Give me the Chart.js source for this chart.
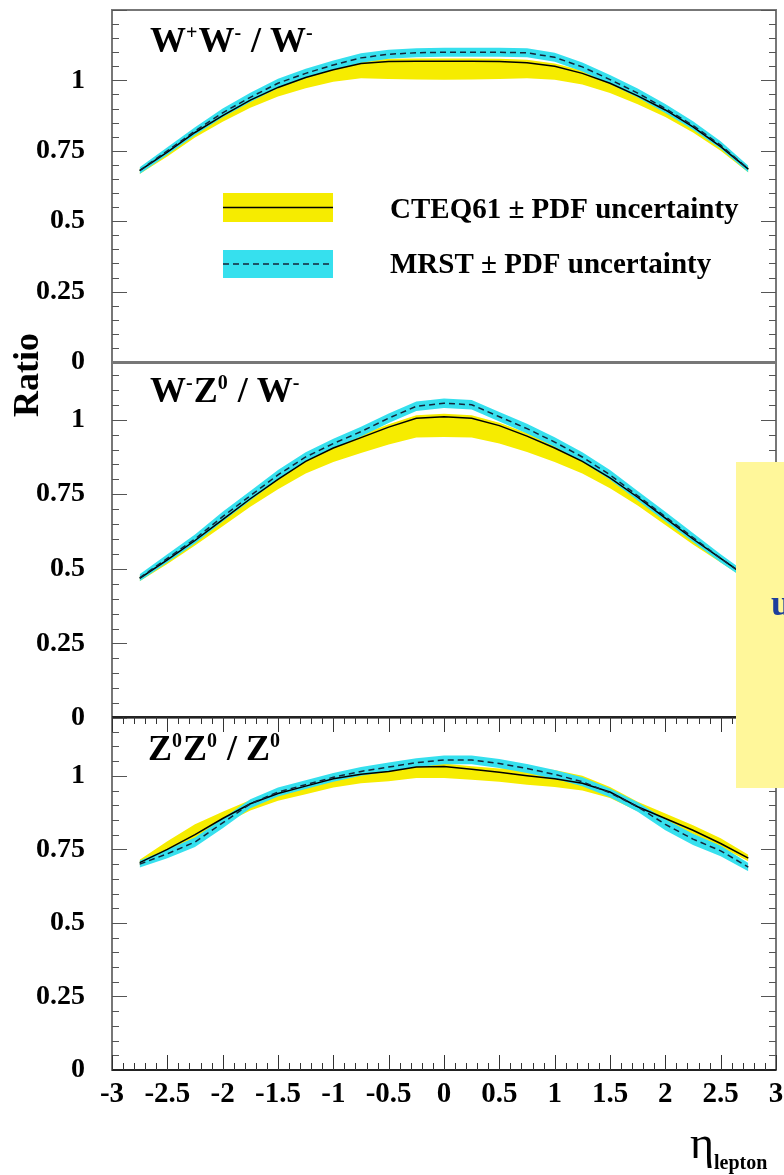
<!DOCTYPE html>
<html>
<head>
<meta charset="utf-8">
<script src="https://cdn.jsdelivr.net/npm/chart.js@4.4.1/dist/chart.umd.min.js"></script>
<style>
  html, body { margin: 0; padding: 0; background: #fff; }
  #wrap { position: relative; width: 784px; height: 1175px; overflow: hidden; background: #fff; }
  canvas { position: absolute; left: 0; top: 0; }
</style>
</head>
<body>
<div id="wrap">
  <canvas id="wwChart" width="784" height="1175"></canvas>
  <canvas id="wzChart" width="784" height="1175"></canvas>
  <canvas id="zzChart" width="784" height="1175"></canvas>
</div>
<script>
// lepton pseudorapidity bins
var eta = [-2.75, -2.5, -2.25, -2.0, -1.75, -1.5, -1.25, -1.0, -0.75, -0.5, -0.25, 0,
           0.25, 0.5, 0.75, 1.0, 1.25, 1.5, 1.75, 2.0, 2.25, 2.5, 2.75];
var xTicks = [-3, -2.5, -2, -1.5, -1, -0.5, 0, 0.5, 1, 1.5, 2, 2.5, 3];
var yTicks = [0, 0.25, 0.5, 0.75, 1];

// W+W- / W-
var wwCteq   = [0.680, 0.745, 0.815, 0.875, 0.930, 0.975, 1.010, 1.038, 1.060, 1.067, 1.068, 1.068, 1.068, 1.067, 1.063, 1.050, 1.025, 0.990, 0.945, 0.895, 0.835, 0.765, 0.685];
var wwCteqLo = [0.668, 0.730, 0.797, 0.853, 0.903, 0.943, 0.972, 0.995, 1.008, 1.005, 1.003, 1.002, 1.003, 1.005, 1.008, 1.002, 0.985, 0.955, 0.915, 0.870, 0.815, 0.750, 0.673];
var wwCteqHi = [0.690, 0.755, 0.826, 0.886, 0.941, 0.986, 1.021, 1.048, 1.070, 1.077, 1.078, 1.078, 1.078, 1.077, 1.073, 1.060, 1.035, 1.000, 0.955, 0.905, 0.845, 0.775, 0.695];
var wwMrst   = [0.680, 0.750, 0.820, 0.885, 0.940, 0.990, 1.025, 1.055, 1.080, 1.093, 1.098, 1.100, 1.100, 1.100, 1.098, 1.082, 1.048, 1.003, 0.955, 0.900, 0.840, 0.770, 0.685];
var wwMrstLo = [0.668, 0.736, 0.805, 0.869, 0.923, 0.973, 1.008, 1.038, 1.063, 1.077, 1.082, 1.084, 1.084, 1.084, 1.082, 1.066, 1.032, 0.987, 0.939, 0.884, 0.825, 0.757, 0.673];
var wwMrstHi = [0.692, 0.763, 0.834, 0.900, 0.956, 1.006, 1.041, 1.071, 1.096, 1.109, 1.114, 1.116, 1.116, 1.116, 1.114, 1.098, 1.064, 1.019, 0.971, 0.916, 0.855, 0.784, 0.697];

// W-Z0 / W-
var wzCteq   = [0.468, 0.530, 0.595, 0.665, 0.735, 0.800, 0.860, 0.905, 0.940, 0.975, 1.005, 1.010, 1.005, 0.980, 0.945, 0.905, 0.860, 0.805, 0.740, 0.670, 0.600, 0.535, 0.470];
var wzCteqLo = [0.458, 0.516, 0.578, 0.643, 0.708, 0.767, 0.820, 0.858, 0.888, 0.917, 0.940, 0.942, 0.940, 0.920, 0.892, 0.858, 0.820, 0.770, 0.712, 0.647, 0.582, 0.521, 0.460];
var wzCteqHi = [0.478, 0.540, 0.605, 0.675, 0.745, 0.810, 0.870, 0.915, 0.950, 0.985, 1.015, 1.020, 1.015, 0.990, 0.955, 0.915, 0.870, 0.815, 0.750, 0.680, 0.610, 0.545, 0.480];
var wzMrst   = [0.470, 0.535, 0.600, 0.675, 0.745, 0.815, 0.875, 0.920, 0.960, 1.005, 1.045, 1.055, 1.050, 1.010, 0.970, 0.925, 0.875, 0.815, 0.745, 0.675, 0.605, 0.535, 0.470];
var wzMrstLo = [0.458, 0.521, 0.585, 0.659, 0.729, 0.799, 0.859, 0.904, 0.944, 0.989, 1.029, 1.039, 1.034, 0.994, 0.954, 0.909, 0.859, 0.799, 0.729, 0.659, 0.590, 0.521, 0.458];
var wzMrstHi = [0.482, 0.549, 0.615, 0.691, 0.761, 0.831, 0.891, 0.936, 0.976, 1.021, 1.061, 1.071, 1.066, 1.026, 0.986, 0.941, 0.891, 0.831, 0.761, 0.691, 0.620, 0.549, 0.482];

// Z0Z0 / Z0
var zzCteq   = [0.705, 0.750, 0.800, 0.855, 0.905, 0.940, 0.965, 0.990, 1.005, 1.015, 1.030, 1.032, 1.022, 1.012, 1.000, 0.990, 0.975, 0.945, 0.895, 0.855, 0.815, 0.770, 0.720];
var zzCteqLo = [0.695, 0.738, 0.785, 0.835, 0.882, 0.915, 0.937, 0.960, 0.975, 0.982, 0.993, 0.993, 0.987, 0.980, 0.970, 0.962, 0.950, 0.925, 0.880, 0.840, 0.802, 0.758, 0.710];
var zzCteqHi = [0.715, 0.778, 0.835, 0.878, 0.918, 0.952, 0.980, 1.008, 1.022, 1.030, 1.040, 1.042, 1.033, 1.025, 1.030, 1.020, 1.000, 0.962, 0.912, 0.872, 0.832, 0.788, 0.732];
var zzMrst   = [0.700, 0.735, 0.775, 0.840, 0.905, 0.945, 0.970, 0.995, 1.015, 1.030, 1.045, 1.054, 1.054, 1.042, 1.025, 1.005, 0.980, 0.942, 0.895, 0.835, 0.785, 0.745, 0.690];
var zzMrstLo = [0.688, 0.720, 0.758, 0.822, 0.890, 0.930, 0.955, 0.980, 1.000, 1.015, 1.030, 1.039, 1.039, 1.027, 1.010, 0.990, 0.965, 0.927, 0.878, 0.815, 0.765, 0.727, 0.676];
var zzMrstHi = [0.712, 0.750, 0.790, 0.855, 0.920, 0.960, 0.985, 1.010, 1.030, 1.045, 1.060, 1.069, 1.069, 1.057, 1.040, 1.020, 0.995, 0.957, 0.910, 0.852, 0.803, 0.762, 0.704];

var YELLOW = '#f6ec00';
var CYAN = '#36e0ee';
var SERIF = '"Liberation Serif", "DejaVu Serif", serif';

function pts(arr) {
    return eta.map(function (e, i) { return { x: e, y: arr[i] }; });
}

function band(arr, color, order) {
    return {
        data: pts(arr), order: order, pointRadius: 0, tension: 0,
        borderWidth: 0, borderColor: 'rgba(0,0,0,0)',
        backgroundColor: color || 'rgba(0,0,0,0)',
        fill: color ? '-1' : false
    };
}

function curve(arr, color, dash, order) {
    return {
        data: pts(arr), order: order, pointRadius: 0, tension: 0,
        borderWidth: 1.5, borderColor: color, borderDash: dash, fill: false
    };
}

// text with superscripts, parts = [[text, 'sup' or '']]
function drawRich(ctx, x, y, parts, size) {
    var supSize = Math.round(size * 0.55);
    parts.forEach(function (p) {
        var sup = p[1] === 'sup';
        ctx.font = 'bold ' + (sup ? supSize : size) + 'px ' + SERIF;
        ctx.fillText(p[0], x, sup ? y - size * 0.36 : y);
        x += ctx.measureText(p[0]).width + (sup ? 1 : 0);
    });
}

function drawFrame(chart, p) {
    var a = chart.chartArea, ctx = chart.ctx;
    var ys = chart.scales.y, xs = chart.scales.x;
    var i, v, len, py, px;
    ctx.save();
    ctx.strokeStyle = '#777';
    ctx.lineWidth = 2;
    ctx.strokeRect(a.left, a.top, a.right - a.left, a.bottom - a.top);

    ctx.strokeStyle = '#555';
    ctx.lineWidth = 1;
    ctx.beginPath();
    for (i = 0; i * 0.05 <= ys.max + 1e-6; i++) {
        v = i * 0.05;
        len = (i % 5 === 0) ? 15 : 7;
        py = Math.round(ys.getPixelForValue(v)) + 0.5;
        ctx.moveTo(a.left, py); ctx.lineTo(a.left + len, py);
        ctx.moveTo(a.right, py); ctx.lineTo(a.right - len, py);
    }
    ctx.stroke();

    if (p.showX) {
        ctx.strokeStyle = '#222';
        ctx.lineWidth = 2;
        ctx.beginPath();
        ctx.moveTo(a.left, a.bottom); ctx.lineTo(a.right, a.bottom);
        ctx.moveTo(a.left, a.top); ctx.lineTo(a.right, a.top);
        ctx.stroke();
        ctx.lineWidth = 1;
        ctx.strokeStyle = '#333';
        ctx.beginPath();
        for (i = 0; i <= 60; i++) {
            v = -3 + i * 0.1;
            len = (i % 5 === 0) ? 15 : 7;
            px = Math.round(xs.getPixelForValue(v)) + 0.5;
            ctx.moveTo(px, a.bottom); ctx.lineTo(px, a.bottom - len);
            ctx.moveTo(px, a.top); ctx.lineTo(px, a.top + len);
        }
        ctx.stroke();
    }
    ctx.restore();
}

function makePanel(id, p) {
    var datasets = [
        band(p.cteqLo, null, 10), band(p.cteqHi, YELLOW, 10),
        band(p.mrstLo, null, 5), band(p.mrstHi, CYAN, 5),
        curve(p.cteq, '#000', [], 1),
        curve(p.mrst, '#14253a', [6, 4], 0)
    ];
    var xHeight = p.showX ? 40 : 0;
    return new Chart(document.getElementById(id), {
        type: 'line',
        data: { datasets: datasets },
        options: {
            responsive: false,
            animation: false,
            devicePixelRatio: 1,
            layout: { padding: { left: 0, right: 8, top: p.top, bottom: 1175 - p.bottom - xHeight } },
            plugins: { legend: { display: false }, tooltip: { enabled: false } },
            scales: {
                x: {
                    type: 'linear', min: -3, max: 3, display: p.showX,
                    grid: { display: false, drawTicks: false },
                    border: { display: false },
                    afterBuildTicks: function (s) { s.ticks = xTicks.map(function (v) { return { value: v }; }); },
                    afterFit: function (s) {
                        if (p.showX) s.height = xHeight;
                        s.paddingLeft = 0; s.paddingRight = 0;
                    },
                    ticks: {
                        autoSkip: false, maxRotation: 0, minRotation: 0, padding: 7, color: '#000',
                        font: { family: SERIF, size: 29, weight: 'bold' },
                        callback: function (v) { return String(v); }
                    }
                },
                y: {
                    type: 'linear', min: 0, max: p.ymax,
                    grid: { display: false, drawTicks: false },
                    border: { display: false },
                    afterBuildTicks: function (s) { s.ticks = yTicks.map(function (v) { return { value: v }; }); },
                    afterFit: function (s) { s.width = 112; s.paddingTop = 0; s.paddingBottom = 0; },
                    ticks: {
                        padding: 27, color: '#000',
                        font: { family: SERIF, size: 28, weight: 'bold' },
                        callback: function (v) { return String(v); }
                    }
                }
            }
        },
        plugins: [{
            id: 'decor',
            afterDatasetsDraw: function (chart) { drawFrame(chart, p); },
            afterDraw: function (chart) {
                var ctx = chart.ctx;
                ctx.save();
                ctx.fillStyle = '#000';
                ctx.textBaseline = 'alphabetic';
                ctx.textAlign = 'left';
                drawRich(ctx, p.titleX, p.titleY, p.title, 36);
                if (p.extra) p.extra(ctx);
                ctx.restore();
            }
        }]
    });
}

makePanel('wwChart', {
    top: 10, bottom: 362, ymax: 1.25, showX: false,
    cteq: wwCteq, cteqLo: wwCteqLo, cteqHi: wwCteqHi,
    mrst: wwMrst, mrstLo: wwMrstLo, mrstHi: wwMrstHi,
    title: [['W', ''], ['+', 'sup'], ['W', ''], ['-', 'sup'], [' / W', ''], ['-', 'sup']],
    titleX: 150, titleY: 52,
    extra: function (ctx) {
        // legend
        ctx.fillStyle = YELLOW;
        ctx.fillRect(223, 193, 110, 29);
        ctx.fillStyle = CYAN;
        ctx.fillRect(223, 250, 110, 28);
        ctx.lineWidth = 1.5;
        ctx.strokeStyle = '#000';
        ctx.beginPath(); ctx.moveTo(223, 207.5); ctx.lineTo(333, 207.5); ctx.stroke();
        ctx.strokeStyle = '#14253a';
        ctx.setLineDash([6, 4]);
        ctx.beginPath(); ctx.moveTo(223, 264); ctx.lineTo(333, 264); ctx.stroke();
        ctx.setLineDash([]);
        ctx.fillStyle = '#000';
        ctx.font = 'bold 29px ' + SERIF;
        ctx.fillText('CTEQ61 \u00b1 PDF uncertainty', 390, 218);
        ctx.fillText('MRST \u00b1 PDF uncertainty', 390, 273);
    }
});

makePanel('wzChart', {
    top: 363, bottom: 718, ymax: 1.19, showX: false,
    cteq: wzCteq, cteqLo: wzCteqLo, cteqHi: wzCteqHi,
    mrst: wzMrst, mrstLo: wzMrstLo, mrstHi: wzMrstHi,
    title: [['W', ''], ['-', 'sup'], ['Z', ''], ['0', 'sup'], [' / W', ''], ['-', 'sup']],
    titleX: 150, titleY: 402,
    extra: function (ctx) {
        ctx.save();
        ctx.translate(38, 375);
        ctx.rotate(-Math.PI / 2);
        ctx.textAlign = 'center';
        ctx.font = 'bold 36px ' + SERIF;
        ctx.fillText('Ratio', 0, 0);
        ctx.restore();
    }
});

makePanel('zzChart', {
    top: 717, bottom: 1070, ymax: 1.2, showX: true,
    cteq: zzCteq, cteqLo: zzCteqLo, cteqHi: zzCteqHi,
    mrst: zzMrst, mrstLo: zzMrstLo, mrstHi: zzMrstHi,
    title: [['Z', ''], ['0', 'sup'], ['Z', ''], ['0', 'sup'], [' / Z', ''], ['0', 'sup']],
    titleX: 148, titleY: 760,
    extra: function (ctx) {
        // axis title
        ctx.font = '46px ' + SERIF;
        ctx.fillText('\u03b7', 690, 1158);
        var w = ctx.measureText('\u03b7').width;
        ctx.font = 'bold 20px ' + SERIF;
        ctx.fillText('lepton', 690 + w, 1169);
        // pale box cut at the right edge
        ctx.fillStyle = '#fff79a';
        ctx.fillRect(736, 462, 48, 326);
        ctx.fillStyle = '#1d3f9c';
        ctx.font = 'bold 36px ' + SERIF;
        ctx.fillText('u', 771, 615);
    }
});
</script>
</body>
</html>
